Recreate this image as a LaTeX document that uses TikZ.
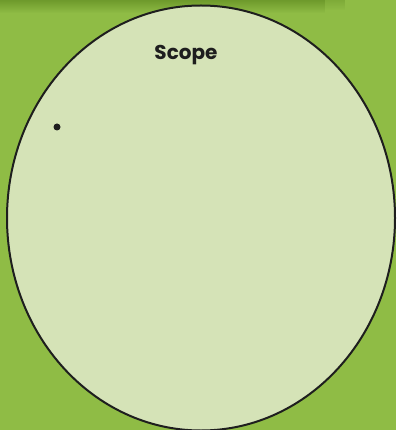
\documentclass[tikz,border=0pt]{standalone}
\usepackage{fontspec}
\setmainfont{Poppins}
\usepackage{xcolor}
\usepackage{tikz}
\usetikzlibrary{shapes.geometric,fadings}
\definecolor{leafgreen}{HTML}{8FBC45}
\definecolor{leafdark}{HTML}{6E9A2C}
\definecolor{palegreen}{HTML}{D5E3B7}
\definecolor{inkblack}{HTML}{1E1E1E}

\begin{document}
\begin{tikzpicture}[x=1pt, y=-1pt, every node/.style={font=\bfseries\fontsize{20}{24}\selectfont}]
  \fill[leafgreen] (0,0) rectangle (396,430);
  \useasboundingbox (0,0) rectangle (396,430);
  % soft shadow along the top edge
  \fill[leafdark, path fading=south] (0,0) rectangle (325,13);
  \fill[leafdark, path fading=south, opacity=.5] (325,0) rectangle (345,10);
  \node[draw=inkblack,line width=2pt,fill=palegreen,ellipse,
        minimum width=388pt,minimum height=425pt,inner sep=0pt]
      (scope) at (201,218) {};
  \node[text=inkblack,anchor=base] (title) at (186,60) {Scope};
  \node[circle,fill=inkblack,inner sep=0pt,minimum size=7pt] (dot) at (57,127) {};
\end{tikzpicture}
\end{document}
